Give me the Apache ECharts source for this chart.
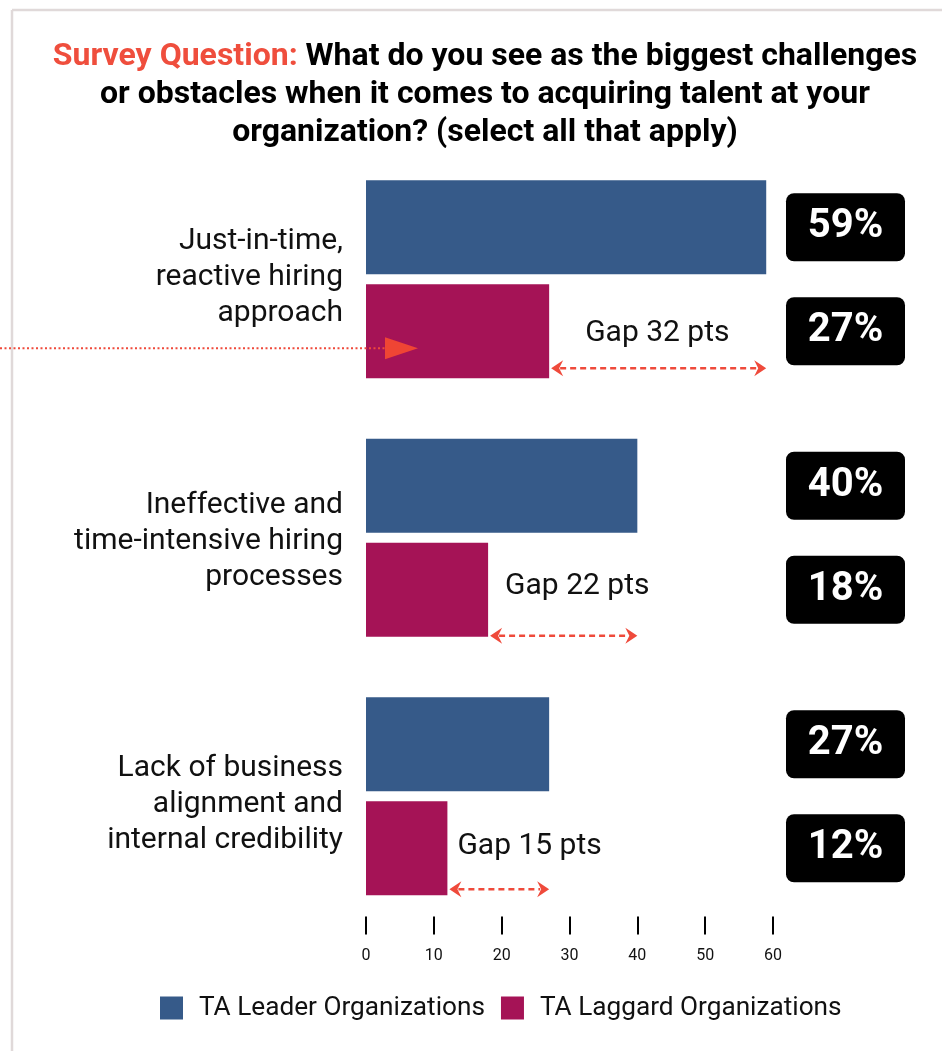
<!DOCTYPE html>
<html>
<head>
<meta charset="utf-8">
<title>Talent acquisition challenges</title>
<script src="https://cdn.jsdelivr.net/npm/echarts@6/dist/echarts.min.js"></script>
<style>
  html, body { margin: 0; padding: 0; background: #fff; }
  #chart { width: 942px; height: 1051px; }
</style>
</head>
<body>
<div id="chart"></div>
<script>
// ---- data ----
const categories = [
  'Just-in-time,\nreactive hiring\napproach',
  'Ineffective and\ntime-intensive hiring\nprocesses',
  'Lack of business\nalignment and\ninternal credibility'
];
const seriesNames = ['TA Leader Organizations', 'TA Laggard Organizations'];
const leaderValues = [59, 40, 27];
const laggardValues = [27, 18, 12];
const axisMin = 0;
const axisMax = 60;
const axisStep = 10;
const highlightedCategory = 0;

// ---- styling ----
const FONT = 'Roboto';
const BLUE = '#365a89';
const MAGENTA = '#a51356';
const RED = '#ef4a3b';
const BAR_W = 94;
const BAR_SPACE = 10;
// per-category tweaks (px) for the annotation layer
const catLabelShift = [-2, 4, 8];
const gapTextShift = [2, -3, -2];
const gapTextInset = [36, 17, 10];
const arrowShift = [37, 46, 41];

const chart = echarts.init(document.getElementById('chart'), null, { renderer: 'canvas' });

// Category caption, gap arrow and gap text for one category
function renderGap(params, api) {
  const idx = api.value(0);
  const lead = api.value(1);
  const lag = api.value(2);
  const bandCenter = api.coord([0, idx]);
  const x0 = bandCenter[0];
  const yLag = bandCenter[1] + (BAR_W + BAR_SPACE) / 2;
  const xLag = api.coord([lag, idx])[0];
  const xLead = api.coord([lead, idx])[0];
  const yArr = yLag + arrowShift[idx];
  const head = 12, half = 8;
  const x1 = xLag + 2, x2 = xLead;
  const children = [
    {
      type: 'text',
      x: x0 - 23,
      y: bandCenter[1] + catLabelShift[idx],
      style: {
        text: categories[idx],
        fill: '#111',
        font: '30px ' + FONT,
        lineHeight: 36,
        align: 'right',
        verticalAlign: 'middle'
      }
    },
    {
      type: 'line',
      shape: { x1: x1 + head - 3, y1: yArr, x2: x2 - head + 3, y2: yArr },
      style: { stroke: RED, lineWidth: 2.6, lineDash: [6, 4] }
    },
    {
      type: 'polygon',
      shape: { points: [[x1, yArr], [x1 + head, yArr - half], [x1 + head - 4, yArr], [x1 + head, yArr + half]] },
      style: { fill: RED }
    },
    {
      type: 'polygon',
      shape: { points: [[x2, yArr], [x2 - head, yArr - half], [x2 - head + 4, yArr], [x2 - head, yArr + half]] },
      style: { fill: RED }
    },
    {
      type: 'text',
      x: xLag + gapTextInset[idx],
      y: yLag + gapTextShift[idx],
      style: {
        text: 'Gap ' + (lead - lag) + ' pts',
        fill: '#111',
        font: '30px ' + FONT,
        align: 'left',
        verticalAlign: 'middle'
      }
    }
  ];
  if (idx === highlightedCategory) {
    const yPtr = yLag + 17;
    children.push({
      type: 'line',
      shape: { x1: 0, y1: yPtr, x2: x0 + 19, y2: yPtr },
      style: { stroke: RED, lineWidth: 2, lineDash: [2, 2.5] }
    });
    children.push({
      type: 'polygon',
      shape: { points: [[x0 + 19, yPtr - 11], [x0 + 52, yPtr], [x0 + 19, yPtr + 11]] },
      style: { fill: '#ef4534' }
    });
  }
  return { type: 'group', children: children };
}

const gapData = categories.map((c, i) => [i, leaderValues[i], laggardValues[i]]);

const valueBox = {
  show: true,
  position: [479.5, '50%'],
  align: 'center',
  verticalAlign: 'middle',
  formatter: '{c}%',
  color: '#fff',
  fontFamily: FONT,
  fontWeight: 'bold',
  fontSize: 40,
  backgroundColor: '#000',
  borderRadius: 8,
  width: 119,
  height: 68,
  lineHeight: 68
};

const option = {
  animation: false,
  backgroundColor: '#fff',
  textStyle: { fontFamily: FONT },
  graphic: [
    { type: 'line', shape: { x1: 12, y1: 10, x2: 942, y2: 10 }, style: { stroke: '#e0d9d9', lineWidth: 2.5 } },
    { type: 'line', shape: { x1: 12, y1: 10, x2: 12, y2: 1051 }, style: { stroke: '#e0d9d9', lineWidth: 2.5 } },
    {
      type: 'text',
      x: 485,
      y: 38,
      style: {
        text: '{red|Survey Question:} What do you see as the biggest challenges\nor obstacles when it comes to acquiring talent at your\norganization? (select all that apply)',
        align: 'center',
        verticalAlign: 'top',
        fill: '#000',
        font: 'bold 32px ' + FONT,
        lineHeight: 38,
        rich: {
          red: { fill: '#ef4e3d', font: 'bold 32px ' + FONT, lineHeight: 38 }
        }
      }
    }
  ],
  legend: {
    data: seriesNames,
    left: 160,
    top: 995,
    icon: 'rect',
    itemWidth: 23,
    itemHeight: 23,
    itemGap: 16,
    padding: 0,
    textStyle: { fontFamily: FONT, fontSize: 26.2, color: '#111', padding: [0, 0, 0, 11] }
  },
  grid: { left: 366, width: 407, top: 150, height: 775.5, containLabel: false },
  xAxis: {
    type: 'value',
    min: axisMin,
    max: axisMax,
    interval: axisStep,
    position: 'bottom',
    offset: -9,
    axisLine: { show: false },
    axisTick: { show: true, length: 18, lineStyle: { color: '#000', width: 2 } },
    splitLine: { show: false },
    axisLabel: { margin: 31, fontFamily: FONT, fontSize: 16, color: '#111' }
  },
  yAxis: {
    type: 'category',
    inverse: true,
    data: categories,
    axisLine: { show: false },
    axisTick: { show: false },
    axisLabel: { show: false }
  },
  series: [
    {
      name: seriesNames[0],
      type: 'bar',
      data: leaderValues,
      barWidth: BAR_W,
      barGap: (BAR_SPACE / BAR_W * 100).toFixed(2) + '%',
      itemStyle: { color: BLUE },
      label: valueBox
    },
    {
      name: seriesNames[1],
      type: 'bar',
      data: laggardValues,
      barWidth: BAR_W,
      itemStyle: { color: MAGENTA },
      label: valueBox
    },
    {
      type: 'custom',
      renderItem: renderGap,
      data: gapData,
      encode: { y: 0, x: [1, 2] },
      clip: false,
      silent: true,
      z: 5
    }
  ]
};

chart.setOption(option);
</script>
</body>
</html>
